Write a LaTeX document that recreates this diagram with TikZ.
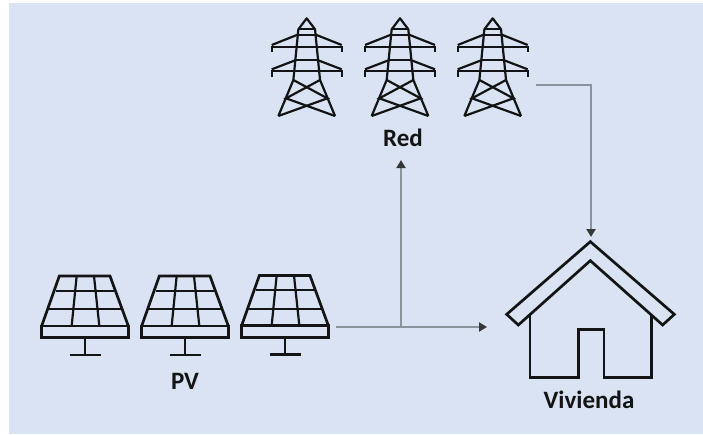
\documentclass[tikz,border=0pt]{standalone}
\usepackage{fontspec}
\setmainfont{Carlito}
\usetikzlibrary{arrows.meta}
\definecolor{bgblue}{HTML}{DAE3F3}
\definecolor{linkgray}{HTML}{8A929C}
\definecolor{inkdark}{HTML}{141414}
\tikzset{
  x=1pt,y=-1pt,
  ink/.style={draw=inkdark,line width=2.7pt,line join=miter},
  fineink/.style={draw=inkdark,line width=2.2pt},
  link/.style={draw=linkgray,line width=2.2pt},
  tip/.style={-{Triangle[length=8pt,width=9pt,fill=inkdark!85,color=inkdark!85]}},
  lbl/.style={font=\bfseries\fontsize{25}{28}\selectfont,text=inkdark,inner sep=0pt},
  pylon/.pic={
    \begin{scope}[x=0.3333pt,y=-0.3333pt]
      \draw[fineink,line join=round] (-85,348) -- (-40,240) -- (-25,88) -- (0,55) -- (25,88) -- (40,240) -- (85,348);
      \draw[fineink] (-25,105) -- (25,105) (-25,88) -- (25,88);
      \draw[fineink] (-105,157) -- (-105,140) -- (105,140) -- (105,157);
      \draw[fineink] (-105,135) -- (-27,104) (105,135) -- (27,104);
      \draw[fineink] (-105,232) -- (-105,212) -- (105,212) -- (105,232);
      \draw[fineink] (-105,208) -- (-32,180) (105,208) -- (32,180);
      \draw[fineink] (-32,180) -- (32,180);
      \draw[fineink] (-40,240) -- (62,295) -- (-85,348);
      \draw[fineink] (40,240) -- (-62,295) -- (85,348);
    \end{scope}
  },
  solarpanel/.pic={
    \begin{scope}[x=0.3333pt,y=-0.3333pt]
      \draw[ink] (65,198) -- (118,48) -- (270,48) -- (325,198);
      \draw[ink] (65,198) rectangle (325,233);
      \draw[fineink] (107,92) -- (283,92) (87,148) -- (303,148);
      \draw[fineink] (170,48) -- (155,198) (222,48) -- (238,198);
      \draw[ink] (195,233) -- (195,285) (150,285) -- (242,285);
    \end{scope}
  }
}
\begin{document}
\begin{tikzpicture}
  \useasboundingbox (0,0) rectangle (703,434);
  \fill[white] (0,0) rectangle (703,434);
  \fill[bgblue] (9,3) rectangle (703,434);

  % transmission towers
  \pic at (306.7,0) {pylon};
  \pic at (400,0) {pylon};
  \pic at (492.7,0) {pylon};
  \node[lbl] (red) at (403,138) {Red};

  % solar panels
  \pic at (20,260) {solarpanel};
  \pic at (120,260) {solarpanel};
  \pic at (220,259.5) {solarpanel};
  \node[lbl] (pv) at (185,381) {PV};

  % house
  \begin{scope}[shift={(480,220)},x=0.3333pt,y=-0.3333pt]
    \draw[ink] (331,65) -- (80,283) -- (115,315) -- (331,122) -- (548,315) -- (583,283) -- cycle;
    \draw[ink] (150,285) -- (150,473) -- (295,473) -- (295,328) -- (372,328) -- (372,473) -- (515,473) -- (515,285);
  \end{scope}
  \node[lbl] (home) at (589,400) {Vivienda};

  % connectors
  \coordinate (pvout) at (336,327);
  \coordinate (junction) at (401,327);
  \coordinate (homein) at (487,327);
  \coordinate (redin) at (401,160);
  \coordinate (redout) at (536,85);
  \coordinate (bend) at (591,85);
  \coordinate (roof) at (591,237);
  \draw[link] (pvout) -- (junction);
  \draw[link,tip] (junction) -- (homein);
  \draw[link,tip] (junction) -- (redin);
  \draw[link,tip] (redout) -- (bend) -- (roof);
\end{tikzpicture}
\end{document}
